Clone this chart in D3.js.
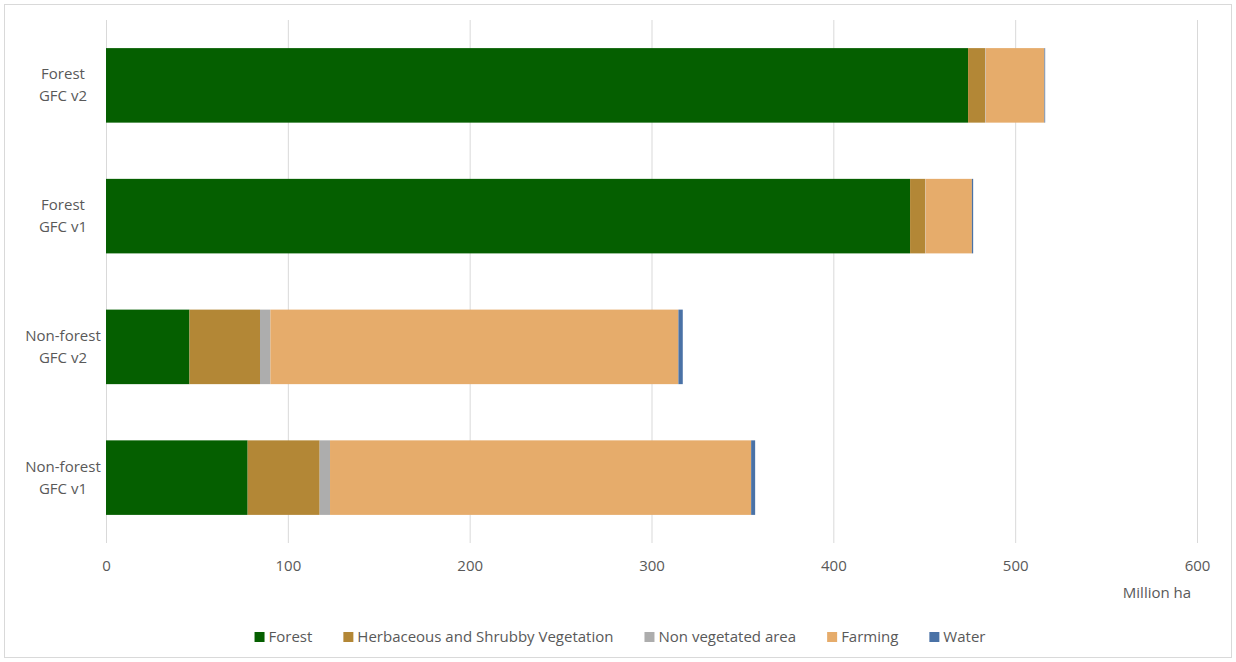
<!DOCTYPE html>
<html>
<head>
<meta charset="utf-8">
<script src="https://cdn.jsdelivr.net/npm/d3@7"></script>
<style>
  html, body { margin: 0; padding: 0; background: #fff; }
  svg text { font-family: "Open Sans", "Noto Sans", sans-serif; fill: #595959; }
</style>
</head>
<body>
<svg id="chart" width="1236" height="662"></svg>
<script>
// Land cover composition per map / class (million ha)
const categories = ["Forest\nGFC v2", "Forest\nGFC v1", "Non-forest\nGFC v2", "Non-forest\nGFC v1"];
const seriesNames = ["Forest", "Herbaceous and Shrubby Vegetation", "Non vegetated area", "Farming", "Water"];
const forest     = [474.1, 442.2, 45.9, 77.9];
const herbaceous = [9.4, 8.3, 38.8, 39.6];
const nonVeg     = [0.3, 0.2, 5.7, 5.7];
const farming    = [32.3, 25.5, 224.4, 231.6];
const water      = [0.4, 0.7, 2.4, 2.2];
const xTicks     = [0, 100, 200, 300, 400, 500, 600];
const axisTitle  = "Million ha";
const colors     = ["#055f00", "#b38736", "#adadad", "#e6ac6b", "#4a72a6"];

const seriesValues = [forest, herbaceous, nonVeg, farming, water];
const rows = categories.map((c, i) => {
  const r = { cat: c };
  seriesNames.forEach((s, j) => r[s] = seriesValues[j][i]);
  return r;
});

const svg = d3.select("#chart");
const W = 1236, H = 662;

// outer chart-area border
svg.append("rect").attr("x", 4.5).attr("y", 4.5).attr("width", W - 9).attr("height", H - 9)
  .attr("fill", "#fff").attr("stroke", "#d9d9d9").attr("stroke-width", 1);

const plot = { left: 106, right: 1197, top: 20, bottom: 543 };

const x = d3.scaleLinear().domain([0, 600]).range([plot.left, plot.right]);
const y = d3.scaleBand().domain(categories).range([plot.top, plot.bottom]).paddingInner(0.43).paddingOuter(0.215);

// vertical gridlines
svg.append("g").selectAll("line").data(xTicks).join("line")
  .attr("x1", d => x(d) + 0.5).attr("x2", d => x(d) + 0.5)
  .attr("y1", plot.top).attr("y2", plot.bottom)
  .attr("stroke", "#d9d9d9").attr("stroke-width", 1);

// stacked bars
const stack = d3.stack().keys(seriesNames)(rows);
svg.append("g").selectAll("g").data(stack).join("g")
  .attr("fill", (d, i) => colors[i])
  .selectAll("rect").data(d => d).join("rect")
  .attr("x", d => x(d[0]))
  .attr("width", d => Math.max(0, x(d[1]) - x(d[0])))
  .attr("y", d => y(d.data.cat))
  .attr("height", y.bandwidth());

// x axis labels
const xAxis = d3.axisBottom(x).tickValues(xTicks).tickSize(0).tickPadding(0);
const gx = svg.append("g").attr("transform", `translate(0, ${plot.bottom + 28})`).call(xAxis);
gx.select(".domain").remove();
gx.selectAll("text").attr("font-size", 15).attr("dy", "0").style("font-family", null);

svg.append("text").attr("x", 1157).attr("y", 598).attr("text-anchor", "middle")
  .attr("font-size", 15).text(axisTitle);

// category labels (two lines)
const yl = svg.append("g");
categories.forEach(c => {
  const lines = c.split("\n");
  const cy = y(c) + y.bandwidth() / 2;
  const t = yl.append("text").attr("text-anchor", "middle").attr("font-size", 15);
  lines.forEach((ln, k) => {
    t.append("tspan").attr("x", 63).attr("y", cy - 6 + k * 22).text(ln);
  });
});

// legend
const legend = svg.append("g");
const items = seriesNames.map((s, i) => {
  const g = legend.append("g");
  g.append("rect").attr("width", 10).attr("height", 10).attr("y", -10).attr("fill", colors[i]);
  const t = g.append("text").attr("x", 14).attr("y", 0).attr("font-size", 15).text(s);
  return { g, w: 14 + t.node().getComputedTextLength() };
});
const gap = 31;
const total = d3.sum(items, d => d.w) + gap * (items.length - 1);
let lx = (W - total) / 2 + 2;
items.forEach(it => {
  it.g.attr("transform", `translate(${lx}, 642)`);
  lx += it.w + gap;
});
</script>
</body>
</html>
